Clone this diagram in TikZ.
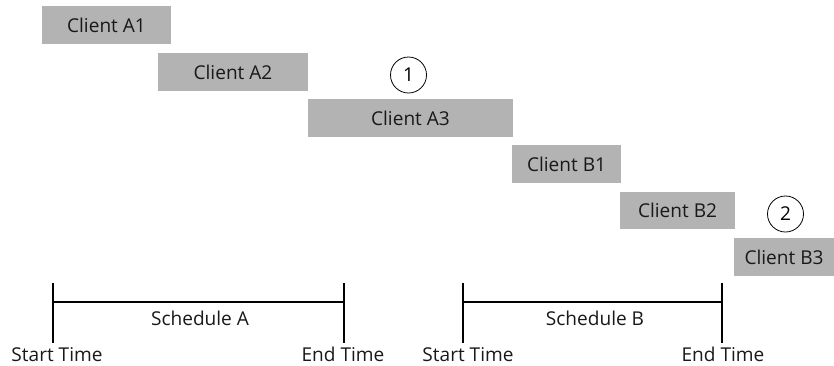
\documentclass[tikz,border=0pt]{standalone}
\usepackage{fontspec}
\setmainfont{Open Sans}
\definecolor{boxgray}{RGB}{179,179,179}
\begin{document}
\begin{tikzpicture}[x=0.75pt,y=-0.75pt,
  font=\fontsize{14.3}{16}\selectfont,
  client/.style={fill=boxgray, draw=none, inner sep=0pt, text=black!90},
  num/.style={circle, draw, line width=0.6pt, minimum size=36*0.75pt, inner sep=0pt},
  tline/.style={line width=0.8pt},
  lbl/.style={inner sep=0pt, text=black!90},
  bot/.style={lbl, anchor=base}]
\useasboundingbox (0,0) rectangle (834,365);
% client boxes
\node[client, minimum width=129*0.75pt, minimum height=38*0.75pt] (a1) at (106.5,25) {Client A1};
\node[client, minimum width=150*0.75pt, minimum height=38*0.75pt] (a2) at (233,72) {Client A2};
\node[client, minimum width=205*0.75pt, minimum height=38*0.75pt] (a3) at (410.5,118) {Client A3};
\node[client, minimum width=109*0.75pt, minimum height=38*0.75pt] (b1) at (566.5,164) {Client B1};
\node[client, minimum width=115*0.75pt, minimum height=37*0.75pt] (b2) at (677.5,210.5) {Client B2};
\node[client, minimum width=100*0.75pt, minimum height=38*0.75pt] (b3) at (784,257) {Client B3};
% numbered circles
\node[num] (c1) at (408.5,75) {1};
\node[num] (c2) at (785.5,214) {2};
% schedule A
\coordinate (sAt) at (53,283); \coordinate (sAb) at (53,343);
\coordinate (eAt) at (344,283); \coordinate (eAb) at (344,343);
\coordinate (sAm) at (53,302); \coordinate (eAm) at (344,302);
\draw[line width=1.3pt] (sAt) -- (sAb);
\draw[tline] (eAt) -- (eAb);
\draw[tline] (sAm) -- (eAm);
\node[lbl] (schA) at (200,318) {Schedule A};
\node[bot] (stA) at (57,361) {Start Time};
\node[bot] (enA) at (343,361) {End Time};
% schedule B
\coordinate (sBt) at (463,283); \coordinate (sBb) at (463,343);
\coordinate (eBt) at (722,283); \coordinate (eBb) at (722,343);
\coordinate (sBm) at (463,302); \coordinate (eBm) at (722,302);
\draw[tline] (sBt) -- (sBb);
\draw[tline] (eBt) -- (eBb);
\draw[tline] (sBm) -- (eBm);
\node[lbl] (schB) at (595,318) {Schedule B};
\node[bot] (stB) at (468,361) {Start Time};
\node[bot] (enB) at (723,361) {End Time};
\end{tikzpicture}
\end{document}
